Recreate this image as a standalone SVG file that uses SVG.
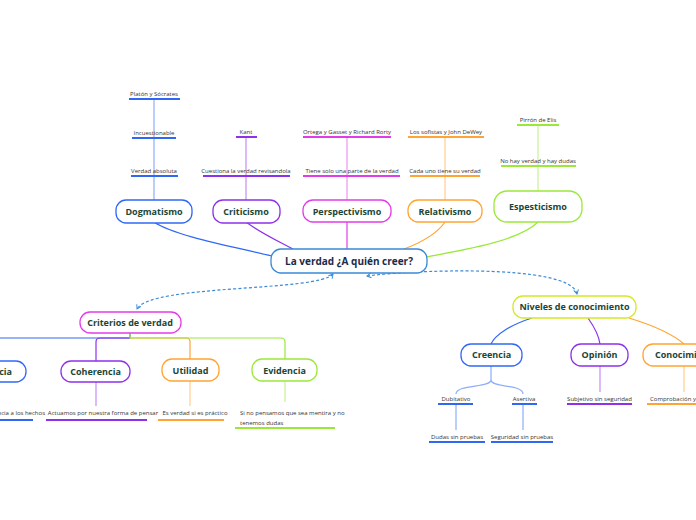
<svg xmlns="http://www.w3.org/2000/svg" width="696" height="520" viewBox="0 0 696 520">
<defs>
<marker id="arr" viewBox="0 0 10 10" refX="8" refY="5" markerWidth="6" markerHeight="6" orient="auto-start-reverse" markerUnits="userSpaceOnUse">
<path d="M1 1 L8 5 L1 9" fill="none" stroke="#3a8ad6" stroke-width="1.6"/>
</marker>
<style>
.node{fill:#fff;stroke-width:1.3}
.lbl{font-family:"Open Sans","Liberation Sans",sans-serif;font-weight:bold;font-size:9px;fill:#1b4636;text-anchor:middle}
.sm{font-family:"Open Sans","Liberation Sans",sans-serif;font-size:6px;fill:#333;text-anchor:middle}
.c{fill:none;stroke-width:1.2}
.ul{fill:none;stroke-width:2}
.v{fill:none;stroke-width:1.2;stroke-opacity:0.55}
.blue{stroke:#3068f5}.purple{stroke:#8f30ea}.mag{stroke:#e23ce8}.orange{stroke:#ffa432}.green{stroke:#9be83a}.yg{stroke:#d6e826}
.dash{fill:none;stroke:#3a8ad6;stroke-width:1.2;stroke-dasharray:3 2.2}
</style>
</defs>
<rect width="696" height="520" fill="#fff"/>

<g id="connectors">
<path class="c blue" d="M154 222 C175 236,230 246,272 256"/>
<path class="c purple" d="M246 222 C262 234,278 241,293 249"/>
<path class="c mag" d="M347 222 V249"/>
<path class="c orange" d="M445 222 C436 235,420 243,404 249"/>
<path class="c green" d="M538 222 C520 240,470 249,426 257"/>
<path class="dash" d="M333 274 C318 292,150 284,137 309" marker-start="url(#arr)" marker-end="url(#arr)"/>
<path class="dash" d="M367 276 C400 271,570 262,577 294" marker-start="url(#arr)" marker-end="url(#arr)"/>
<path class="c blue" d="M130 333 V338 H-25 V361"/>
<path class="c purple" d="M130 338 H100 Q96 338 96 342 V361"/>
<path class="c orange" d="M130 338 H186 Q190 338 190 342 V359"/>
<path class="c green" d="M130 333 V338 H281 Q285 338 285 342 V359"/>
<path class="c blue" d="M532 318 C510 325,495 335,491 344"/>
<path class="c purple" d="M588 318 C595 328,599 336,600 344"/>
<path class="c orange" d="M629 318 C655 326,675 336,684 344"/>
<!-- sub verticals -->
<path class="v blue" d="M154 99 V200"/>
<path class="v purple" d="M246 137 V200"/>
<path class="v mag" d="M347 137 V200"/>
<path class="v orange" d="M445 137 V200"/>
<path class="v green" d="M538 125 V191"/>
<path class="v purple" d="M96 382 V406"/>
<path class="v orange" d="M190 381 V406"/>
<path class="v green" d="M285 381 V402"/>
<path class="v blue" d="M491 366 V380 C491 388,456 384,456 394 M491 380 C491 388,523 384,523 394"/>
<path class="v blue" d="M456 404 V430 M523 404 V430"/>
<path class="v purple" d="M600 366 V392"/>
<path class="v orange" d="M684 366 V392"/>
<!-- underlines -->
<path class="ul blue" d="M129 99 H180 M132 138 H176 M131 176 H178"/>
<path class="ul purple" d="M236 137 H257 M203 176 H290"/>
<path class="ul mag" d="M303 137 H391 M303 176 H400"/>
<path class="ul orange" d="M408 137 H484 M410 176 H480"/>
<path class="ul green" d="M517 125 H559 M501 166 H576"/>
<path class="ul blue" d="M0 420 H33"/>
<path class="ul purple" d="M46 420 H147"/>
<path class="ul orange" d="M158 420 H224"/>
<path class="ul green" d="M235 428 H335"/>
<path class="ul blue" d="M438 404 H473 M512 404 H537 M429 442 H485 M491 442 H553"/>
<path class="ul purple" d="M567 404 H632"/>
<path class="ul orange" d="M647 404 H700"/>
</g>

<g id="center">
<rect class="node" x="271" y="249" width="156" height="24" rx="10" stroke="#3a8ad6"/>
<text x="349" y="265" font-family="Open Sans, Liberation Sans, sans-serif" font-weight="bold" font-size="10px" fill="#1c2b4a" text-anchor="middle">La verdad ¿A quién creer?</text>
</g>

<g id="dogmatismo">
<rect class="node blue" x="116" y="200" width="76" height="23" rx="10"/>
<text class="lbl" x="154" y="215">Dogmatismo</text>
<text class="sm" x="154" y="173">Verdad absoluta</text>
<text class="sm" x="154" y="135">Incuestionable</text>
<text class="sm" x="154" y="96">Platón y Sócrates</text>
</g>
<g id="criticismo">
<rect class="node purple" x="213" y="200" width="67" height="23" rx="10"/>
<text class="lbl" x="246" y="215">Criticismo</text>
<text class="sm" x="246" y="173">Cuestiona la verdad revisandola</text>
<text class="sm" x="246" y="134">Kant</text>
</g>
<g id="perspectivismo">
<rect class="node mag" x="303" y="200" width="88" height="22" rx="10"/>
<text class="lbl" x="347" y="215">Perspectivismo</text>
<text class="sm" x="352" y="173">Tiene solo una parte de la verdad</text>
<text class="sm" x="347" y="134">Ortega y Gasset y Richard Rorty</text>
</g>
<g id="relativismo">
<rect class="node orange" x="408" y="200" width="74" height="22" rx="10"/>
<text class="lbl" x="445" y="215">Relativismo</text>
<text class="sm" x="445" y="173">Cada uno tiene su verdad</text>
<text class="sm" x="446" y="134">Los sofistas y John DeWey</text>
</g>
<g id="espesticismo">
<rect class="node green" x="494" y="191" width="88" height="31" rx="13"/>
<text class="lbl" x="538" y="210">Espesticismo</text>
<text class="sm" x="538" y="163">No hay verdad y hay dudas</text>
<text class="sm" x="538" y="122">Pirrón de Elis</text>
</g>

<g id="criterios">
<rect class="node mag" x="80" y="312" width="101" height="21" rx="10"/>
<text class="lbl" x="130" y="326">Criterios de verdad</text>
</g>
<g id="correspondencia">
<rect class="node blue" x="-80" y="361" width="106" height="21" rx="10"/>
<text class="lbl" x="12" y="375" style="text-anchor:end">Correspondencia</text>
<text class="sm" x="45" y="415" style="text-anchor:end">Correspondencia a los hechos</text>
</g>
<g id="coherencia">
<rect class="node purple" x="61" y="361" width="69" height="21" rx="10"/>
<text class="lbl" x="95.5" y="375">Coherencia</text>
<text class="sm" x="103" y="415">Actuamos por nuestra forma de pensar</text>
</g>
<g id="utilidad">
<rect class="node orange" x="162" y="359" width="57" height="22" rx="10"/>
<text class="lbl" x="190.5" y="374">Utilidad</text>
<text class="sm" x="195" y="415">Es verdad si es práctico</text>
</g>
<g id="evidencia">
<rect class="node green" x="252" y="359" width="65" height="22" rx="10"/>
<text class="lbl" x="284.5" y="374">Evidencia</text>
<text class="sm" x="240" y="415" style="text-anchor:start">Si no pensamos que sea mentira y no</text>
<text class="sm" x="240" y="425" style="text-anchor:start">tenemos dudas</text>
</g>

<g id="niveles">
<rect class="node yg" x="513" y="296" width="123" height="22" rx="10"/>
<text class="lbl" x="574.5" y="310">Niveles de conocimiento</text>
</g>
<g id="creencia">
<rect class="node blue" x="461" y="344" width="61" height="22" rx="10"/>
<text class="lbl" x="491.5" y="358">Creencia</text>
</g>
<g id="dubitativo">
<text class="sm" x="456" y="401">Dubitativo</text>
</g>
<g id="asertiva">
<text class="sm" x="524" y="401">Asertiva</text>
</g>
<g id="dudas">
<text class="sm" x="457" y="439">Dudas sin pruebas</text>
</g>
<g id="seguridad">
<text class="sm" x="522" y="439">Seguridad sin pruebas</text>
</g>
<g id="opinion">
<rect class="node purple" x="571" y="344" width="57" height="22" rx="10"/>
<text class="lbl" x="599.5" y="358">Opinión</text>
<text class="sm" x="599.5" y="401">Subjetivo sin seguridad</text>
</g>
<g id="conocimiento">
<rect class="node orange" x="643" y="344" width="90" height="22" rx="10"/>
<text class="lbl" x="655" y="358" style="text-anchor:start">Conocimiento</text>
<text class="sm" x="650" y="401" style="text-anchor:start">Comprobación y</text>
</g>
</svg>
